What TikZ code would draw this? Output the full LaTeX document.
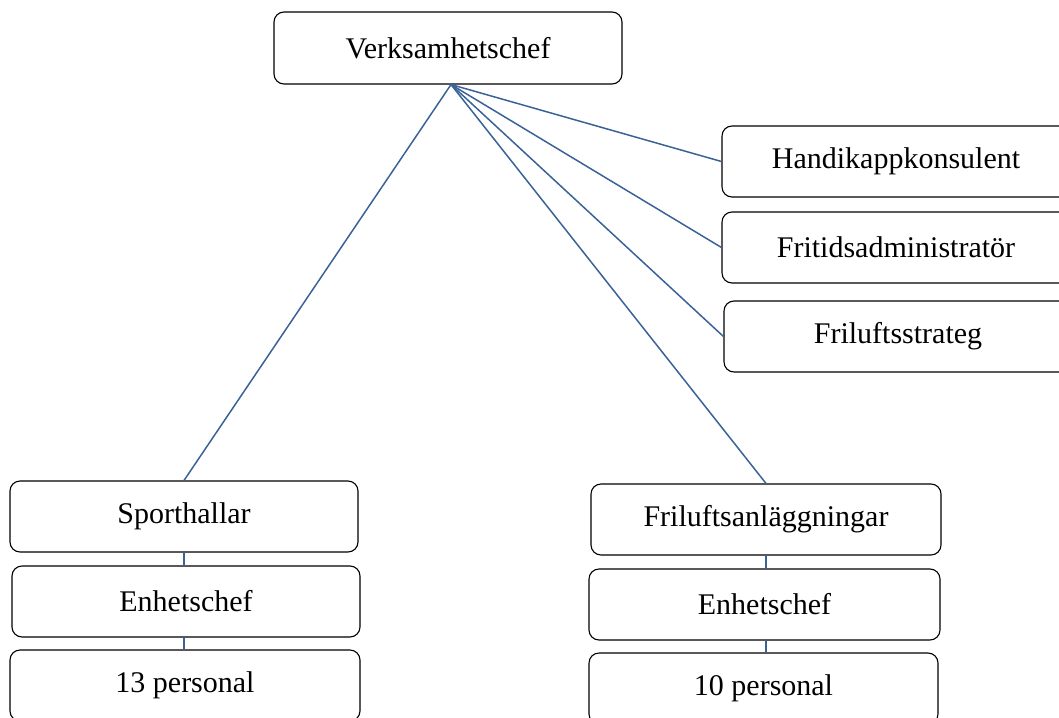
\documentclass[tikz,border=0pt]{standalone}
\usepackage{fontspec}
\setmainfont{Liberation Serif}
\usetikzlibrary{positioning,calc}
\definecolor{lnk}{HTML}{3B6296}
\tikzset{box/.style={draw=black, line width=1.1pt, rounded corners=10pt, fill=white, minimum width=348pt, minimum height=71pt, inner sep=0pt, font=\fontsize{30}{36}\selectfont},
  conn/.style={draw=lnk, line width=1.5pt}}
\begin{document}
\begin{tikzpicture}[x=1pt,y=-1pt]
\clip (0,0) rectangle (1059,717);
\useasboundingbox (0,0) rectangle (1059,717);
% ---- top ----
\node[box, minimum height=72pt] (chef) at (448,48) {Verksamhetschef};
% ---- staff ----
\node[box] (handik) at (896,161.5) {Handikappkonsulent};
\node[box] (fritid) at (896,247.5) {Fritidsadministratör};
\node[box] (strat) at (898,336.5) {Friluftsstrateg};
% ---- units ----
\node[box] (sport) at (184,516.5) {Sporthallar};
\node[box] (enhL) at (186,601.5) {Enhetschef};
\node[box, minimum width=350pt] (persL) at (185,685.5) {13 personal};
\node[box, minimum width=350pt] (frilu) at (766,519.5) {Friluftsanläggningar};
\node[box, minimum width=351pt] (enhR) at (764.5,604.5) {Enhetschef};
\node[box, minimum width=349pt] (persR) at (763.5,688.5) {10 personal};
% ---- connectors ----
\foreach \t in {handik,fritid,strat} \draw[conn] ($(chef.south)+(3,0)$) -- (\t.west);
\draw[conn] ($(chef.south)+(3,0)$) -- (sport.north);
\draw[conn] ($(chef.south)+(3,0)$) -- (frilu.north);
\draw[conn] (sport.south) -- (sport.south |- enhL.north);
\draw[conn] (enhL.south -| sport.south) -- (sport.south |- persL.north);
\draw[conn] (frilu.south) -- (frilu.south |- enhR.north);
\draw[conn] (enhR.south -| frilu.south) -- (frilu.south |- persR.north);
\end{tikzpicture}
\end{document}
